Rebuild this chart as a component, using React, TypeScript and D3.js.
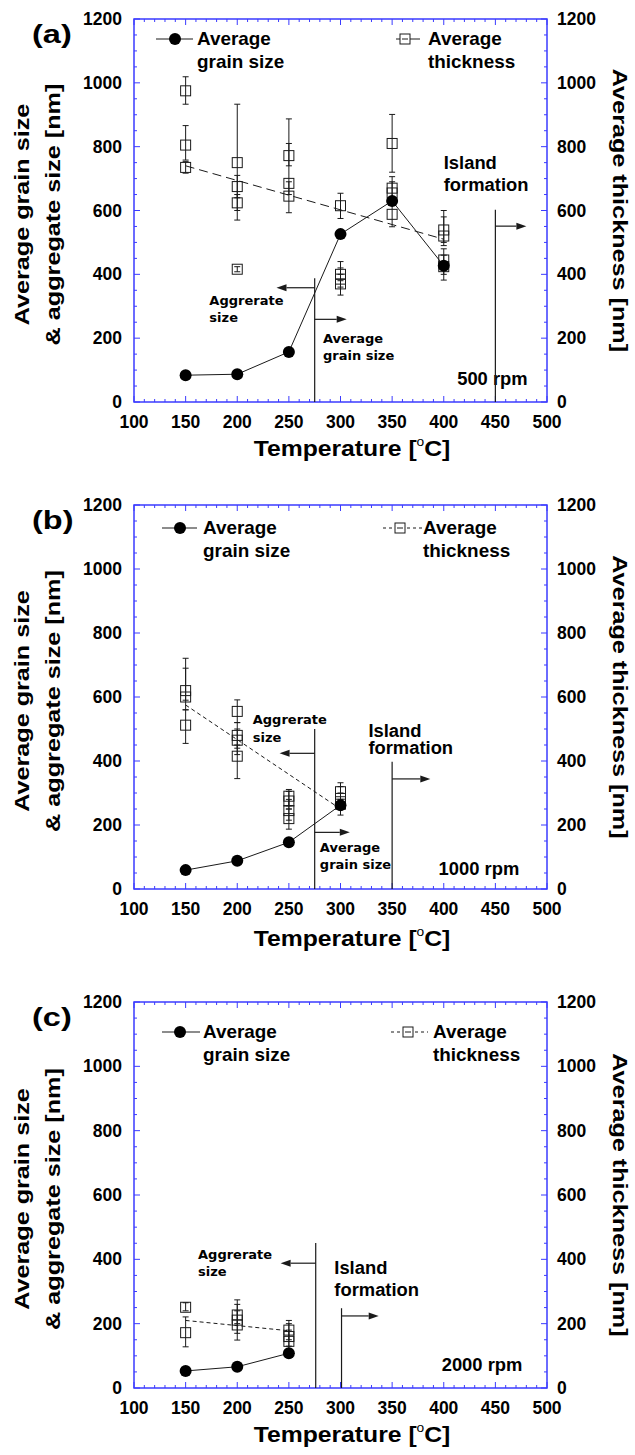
import React from 'react';
import * as d3 from 'd3';

const X_TICKS = [100, 150, 200, 250, 300, 350, 400, 450, 500];
const Y_TICKS = [0, 200, 400, 600, 800, 1000, 1200];

// (a) 500 rpm  -- [temperature, value]
const grainA: [number, number][] = [[150, 84], [200, 87], [250, 157], [300, 526], [350, 630], [400, 427]];
// [temperature, thickness, lower, upper]
const thickA: [number, number, number, number][] = [
  [150, 975, 933, 1019], [150, 805, 758, 866], [150, 735, 717, 753],
  [200, 750, 570, 933], [200, 675, 640, 710], [200, 624, 600, 650], [200, 416, 408, 424],
  [250, 772, 740, 887], [250, 685, 650, 810], [250, 645, 593, 690],
  [300, 615, 575, 654], [300, 400, 380, 440], [300, 385, 360, 420], [300, 370, 335, 400],
  [350, 810, 720, 901], [350, 670, 640, 706], [350, 655, 620, 690], [350, 588, 549, 625],
  [400, 539, 500, 600], [400, 520, 490, 580], [400, 445, 400, 480], [400, 424, 382, 460],
];
const trendA: [number, number][] = [[150, 740], [400, 510]];

// (b) 1000 rpm
const grainB: [number, number][] = [[150, 59], [200, 88], [250, 146], [300, 262]];
const thickB: [number, number, number, number][] = [
  [150, 620, 590, 721], [150, 600, 560, 690], [150, 512, 455, 560],
  [200, 555, 520, 591], [200, 480, 440, 520], [200, 465, 420, 500], [200, 415, 345, 450],
  [250, 290, 260, 311], [250, 275, 250, 305], [250, 245, 215, 280], [250, 220, 187, 250],
  [300, 304, 280, 332], [300, 283, 250, 320], [300, 265, 231, 300],
];
const trendB: [number, number][] = [[150, 575], [300, 250]];

// (c) 2000 rpm
const grainC: [number, number][] = [[150, 53], [200, 66], [250, 108]];
const thickC: [number, number, number, number][] = [
  [150, 251, 240, 265], [150, 172, 128, 221],
  [200, 227, 200, 274], [200, 211, 170, 260], [200, 196, 149, 240],
  [250, 180, 150, 210], [250, 160, 130, 200], [250, 145, 120, 180],
];
const trendC: [number, number][] = [[150, 210], [250, 178]];

const ARIAL = 'Liberation Sans, Arial, Helvetica, sans-serif';
const DEJAVU = 'DejaVu Sans, Verdana, sans-serif';
const BLUE = '#3b3bff';
const INK = '#1a1a1a';

const L = 134;
const R = 547;

const panels = [
  {
    label: '(a)', top: 19, bottom: 402, rpm: '500 rpm',
    grain: grainA, thick: thickA, trend: trendA, trendDash: '9,5', legendDash: null,
    legY: 20, grainLeg: [156, 193, 175, 197], thickLeg: [396, 420, 405, 428],
    agg: { x: 275, top: 388, arrowY: 358, arrowTo: 238, text: [173, 304, 251] },
    avg: { arrowY: 259, arrowTo: 306, text: [283, 185, 132] },
    island: { x: 450, top: 602, arrowY: 551, arrowTo: 480, text: [400, 730, 661] },
    rpmAt: [413, 53], titleY: 54,
  },
  {
    label: '(b)', top: 505, bottom: 889, rpm: '1000 rpm',
    grain: grainB, thick: thickB, trend: trendB, trendDash: '4,3', legendDash: '3,3',
    legY: 23, grainLeg: [162, 197, 180, 203], thickLeg: [383, 422, 400, 423],
    agg: { x: 275, top: 500, arrowY: 424, arrowTo: 241, text: [215, 516, 459] },
    avg: { arrowY: 177, arrowTo: 309, text: [280, 116, 62] },
    island: { x: 350, top: 398, arrowY: 344, arrowTo: 387, text: [327, 475, 423] },
    rpmAt: [395, 44], titleY: 57,
  },
  {
    label: '(c)', top: 1002, bottom: 1388, rpm: '2000 rpm',
    grain: grainC, thick: thickC, trend: trendC, trendDash: '4,3', legendDash: '3,3',
    legY: 30, grainLeg: [162, 200, 180, 203], thickLeg: [391, 428, 408, 433],
    agg: { x: 276, top: 451, arrowY: 388, arrowTo: 242, text: [162, 401, 349] },
    avg: null,
    island: { x: 301, top: 248, arrowY: 224, arrowTo: 337, text: [294, 355, 286] },
    rpmAt: [398, 53], titleY: 54,
  },
];

function Txt({ x, y, size, sx = 1, rot = 0, anchor = 'start', family = ARIAL, children }: any) {
  return (
    <text
      transform={`translate(${x},${y}) rotate(${rot}) scale(${sx},1)`}
      fontSize={size}
      fontFamily={family}
      fontWeight="bold"
      textAnchor={anchor}
      fill="#000"
    >
      {children}
    </text>
  );
}

function Arrow({ x1, x2, y }: { x1: number; x2: number; y: number }) {
  const dir = x2 > x1 ? 1 : -1;
  const hx = x2 - dir * 10;
  return (
    <g>
      <line x1={x1} x2={hx} y1={y} y2={y} stroke={INK} strokeWidth={1.2} />
      <polygon points={`${x2},${y} ${hx},${y - 3.5} ${hx},${y + 3.5}`} fill={INK} />
    </g>
  );
}

function Panel({ p }: any) {
  const x = d3.scaleLinear().domain([100, 500]).range([L, R]);
  const y = d3.scaleLinear().domain([0, 1200]).range([p.bottom, p.top]);
  const line = d3.line<[number, number]>().x((d) => x(d[0])).y((d) => y(d[1]));
  const xMinor = d3.range(100, 501, 10);
  const yMinor = d3.range(0, 1201, 50);
  const mid = (p.top + p.bottom) / 2;
  const half = 5;

  return (
    <g>
      {/* frame + ticks */}
      <rect x={L} y={p.top} width={R - L} height={p.bottom - p.top} fill="none" stroke={BLUE} strokeWidth={1.5} />
      {xMinor.map((t) => {
        const len = t % 50 === 0 ? 6 : 3;
        return (
          <g key={'x' + t} stroke={BLUE} strokeWidth={1}>
            <line x1={x(t)} x2={x(t)} y1={p.bottom} y2={p.bottom - len} />
            <line x1={x(t)} x2={x(t)} y1={p.top} y2={p.top + len} />
          </g>
        );
      })}
      {yMinor.map((v) => {
        const len = v % 200 === 0 ? 6 : 3;
        return (
          <g key={'y' + v} stroke={BLUE} strokeWidth={1}>
            <line x1={L} x2={L + len} y1={y(v)} y2={y(v)} />
            <line x1={R} x2={R - len} y1={y(v)} y2={y(v)} />
          </g>
        );
      })}

      {/* tick labels */}
      {Y_TICKS.map((v) => (
        <g key={'yl' + v}>
          <Txt x={L - 12} y={y(v) + 6} size={17.5} anchor="end">{v}</Txt>
          <Txt x={R + 10} y={y(v) + 6} size={17.5}>{v}</Txt>
        </g>
      ))}
      {X_TICKS.map((t) => (
        <Txt key={'xl' + t} x={x(t)} y={p.bottom + 26} size={17.5} anchor="middle">{t}</Txt>
      ))}

      {/* axis titles */}
      <Txt x={352} y={p.bottom + p.titleY} size={21.5} sx={1.15} anchor="middle">
        Temperature [<tspan fontSize={12} fontWeight="normal" dy={-10}>o</tspan><tspan dy={10}>C]</tspan>
      </Txt>
      <Txt x={29} y={mid + 4} size={21} sx={1.2} rot={-90} anchor="middle">Average grain size</Txt>
      <Txt x={60} y={mid + 4} size={21} sx={1.2} rot={-90} anchor="middle">&amp; aggregate size [nm]</Txt>
      <Txt x={613} y={mid} size={21} sx={1.2} rot={90} anchor="middle">Average thickness [nm]</Txt>
      <Txt x={32} y={p.top + 24} size={25} sx={1.3}>{p.label}</Txt>

      {/* trend of thickness */}
      <path d={line(p.trend) || ''} fill="none" stroke={INK} strokeWidth={1} strokeDasharray={p.trendDash} />

      {/* thickness with error bars */}
      {p.thick.map((d: number[], i: number) => (
        <g key={'t' + i} stroke={INK} strokeWidth={1} fill="none">
          <line x1={x(d[0])} x2={x(d[0])} y1={y(d[2])} y2={y(d[3])} />
          <line x1={x(d[0]) - 3} x2={x(d[0]) + 3} y1={y(d[2])} y2={y(d[2])} />
          <line x1={x(d[0]) - 3} x2={x(d[0]) + 3} y1={y(d[3])} y2={y(d[3])} />
          <rect x={x(d[0]) - half} y={y(d[1]) - half} width={half * 2} height={half * 2} />
        </g>
      ))}

      {/* grain size */}
      <path d={line(p.grain) || ''} fill="none" stroke={INK} strokeWidth={1} />
      {p.grain.map((d: number[], i: number) => (
        <circle key={'g' + i} cx={x(d[0])} cy={y(d[1])} r={6} fill="#000" />
      ))}

      {/* aggregate / grain size boundary */}
      <line x1={x(p.agg.x)} x2={x(p.agg.x)} y1={y(p.agg.top)} y2={p.bottom} stroke={INK} strokeWidth={1.2} />
      <Arrow x1={x(p.agg.x)} x2={x(p.agg.arrowTo)} y={y(p.agg.arrowY)} />
      <Txt x={x(p.agg.text[0])} y={y(p.agg.text[1])} size={13} family={DEJAVU}>Aggrerate</Txt>
      <Txt x={x(p.agg.text[0])} y={y(p.agg.text[2])} size={13} family={DEJAVU}>size</Txt>
      {p.avg && (
        <g>
          <Arrow x1={x(p.agg.x)} x2={x(p.avg.arrowTo)} y={y(p.avg.arrowY)} />
          <Txt x={x(p.avg.text[0])} y={y(p.avg.text[1])} size={13} family={DEJAVU}>Average</Txt>
          <Txt x={x(p.avg.text[0])} y={y(p.avg.text[2])} size={13} family={DEJAVU}>grain size</Txt>
        </g>
      )}

      {/* island formation */}
      <Txt x={x(p.island.text[0])} y={y(p.island.text[1])} size={17.5} sx={1.05}>Island</Txt>
      <Txt x={x(p.island.text[0])} y={y(p.island.text[2])} size={17.5} sx={1.05}>formation</Txt>
      <Txt x={x(p.rpmAt[0])} y={y(p.rpmAt[1])} size={17.5} sx={1.05}>{p.rpm}</Txt>
      <line x1={x(p.island.x)} x2={x(p.island.x)} y1={y(p.island.top)} y2={p.bottom} stroke={INK} strokeWidth={1.2} />
      <Arrow x1={x(p.island.x)} x2={x(p.island.arrowTo)} y={y(p.island.arrowY)} />

      {/* legend */}
      <g>
        <line x1={p.grainLeg[0]} x2={p.grainLeg[1]} y1={p.top + p.legY} y2={p.top + p.legY} stroke={INK} strokeWidth={1.2} />
        <circle cx={p.grainLeg[2]} cy={p.top + p.legY} r={6} fill="#000" />
        <Txt x={p.grainLeg[3]} y={p.top + p.legY + 6} size={17.5} sx={1.08}>Average</Txt>
        <Txt x={p.grainLeg[3]} y={p.top + p.legY + 29} size={17.5} sx={1.08}>grain size</Txt>

        <line x1={p.thickLeg[0]} x2={p.thickLeg[1]} y1={p.top + p.legY} y2={p.top + p.legY} stroke={INK} strokeWidth={1}
          strokeDasharray={p.legendDash || undefined} />
        <rect x={p.thickLeg[2] - half} y={p.top + p.legY - half} width={half * 2} height={half * 2} fill="#fff" stroke={INK} strokeWidth={1} />
        <line x1={p.thickLeg[2] - 3} x2={p.thickLeg[2] + 3} y1={p.top + p.legY} y2={p.top + p.legY} stroke={INK} strokeWidth={1} />
        <Txt x={p.thickLeg[3]} y={p.top + p.legY + 6} size={17.5} sx={1.08}>Average</Txt>
        <Txt x={p.thickLeg[3]} y={p.top + p.legY + 29} size={17.5} sx={1.08}>thickness</Txt>
      </g>
    </g>
  );
}

export default function App() {
  return (
    <svg width={635} height={1455} style={{ position: 'absolute', left: 0, top: 0, background: '#fff' }}>
      <rect width={635} height={1455} fill="#fff" />
      {panels.map((p) => (
        <Panel key={p.label} p={p} />
      ))}
    </svg>
  );
}
